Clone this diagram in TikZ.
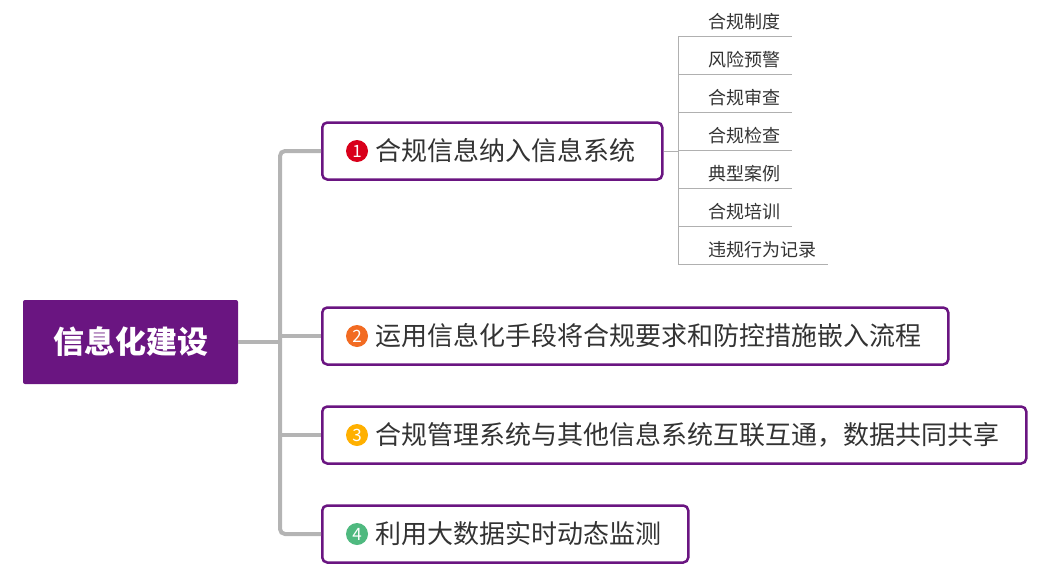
\documentclass[tikz,border=0pt]{standalone}
\usepackage{fontspec}
\setmainfont{Noto Sans CJK SC}
\usepackage{tikz}
\definecolor{mindpurple}{HTML}{6A1581}
\definecolor{textgray}{HTML}{333333}
\definecolor{linegray}{HTML}{B4B4B4}
\definecolor{twiggray}{HTML}{B0B0B0}
\definecolor{badgeA}{HTML}{D9001B}
\definecolor{badgeB}{HTML}{F26B22}
\definecolor{badgeC}{HTML}{FFB000}
\definecolor{badgeD}{HTML}{4FB97F}
\tikzstyle{root}=[fill=mindpurple, rounded corners=2pt, text=white, font=\fontsize{31}{31}\selectfont\bfseries, minimum width=215pt, minimum height=84pt]
\tikzstyle{topic}=[draw=mindpurple, line width=2.5pt, rounded corners=5pt, fill=white, text=textgray, font=\fontsize{26}{26}\selectfont, minimum height=57pt, inner xsep=24pt, anchor=west]
\tikzstyle{badge}=[circle, inner sep=0pt, minimum size=22pt, text=white, font=\fontsize{17}{17}\selectfont]
\tikzstyle{leaf}=[anchor=south west, inner sep=0pt, minimum height=28pt, text=textgray, font=\fontsize{18}{18}\selectfont]
\tikzstyle{trunk}=[draw=linegray, line width=4pt, rounded corners=5pt]
\tikzstyle{twig}=[draw=twiggray, line width=1pt]

\begin{document}
\begin{tikzpicture}[x=1pt, y=-1pt]
        \useasboundingbox (0,0) rectangle (1055,581);
        \node[root] (R) at (130.5,342) {信息化建设};
        \node[topic] (B1) at (321,151) {\hspace*{29pt}合规信息纳入信息系统\hspace*{3pt}};
        \node[topic] (B2) at (321,336) {\hspace*{29pt}运用信息化手段将合规要求和防控措施嵌入流程\hspace*{3pt}};
        \node[topic] (B3) at (321,435) {\hspace*{29pt}合规管理系统与其他信息系统互联互通，数据共同共享\hspace*{3pt}};
        \node[topic] (B4) at (321,534) {\hspace*{29pt}利用大数据实时动态监测\hspace*{3pt}};
        \node[badge, fill=badgeA] (N1) at ([xshift=36pt]B1.west) {1};
        \node[badge, fill=badgeB] (N2) at ([xshift=36pt]B2.west) {2};
        \node[badge, fill=badgeC] (N3) at ([xshift=36pt]B3.west) {3};
        \node[badge, fill=badgeD] (N4) at ([xshift=36pt]B4.west) {4};
        \coordinate (T) at (280,342);
        \draw[trunk] (B1.west) -| (T) |- (B4.west);
        \draw[trunk] (R.east) -- (T);
        \draw[trunk] (T |- B2.west) -- (B2.west);
        \draw[trunk] (T |- B3.west) -- (B3.west);
        \node[leaf] (L1) at (678,36) {\hspace*{30pt}合规制度\hspace*{12pt}};
        \node[leaf] (L2) at (678,74) {\hspace*{30pt}风险预警\hspace*{12pt}};
        \node[leaf] (L3) at (678,112) {\hspace*{30pt}合规审查\hspace*{12pt}};
        \node[leaf] (L4) at (678,150) {\hspace*{30pt}合规检查\hspace*{12pt}};
        \node[leaf] (L5) at (678,188) {\hspace*{30pt}典型案例\hspace*{12pt}};
        \node[leaf] (L6) at (678,226) {\hspace*{30pt}合规培训\hspace*{12pt}};
        \node[leaf] (L7) at (678,264) {\hspace*{30pt}违规行为记录\hspace*{12pt}};
        \foreach \i in {1,...,7}
            \draw[twig] (L\i.south west) -- (L\i.south east);
        \draw[twig] (L1.south west) -- (L7.south west);
        \draw[twig] (B1.east) -- (B1.east -| L4.south west);
    \end{tikzpicture}
\end{document}
